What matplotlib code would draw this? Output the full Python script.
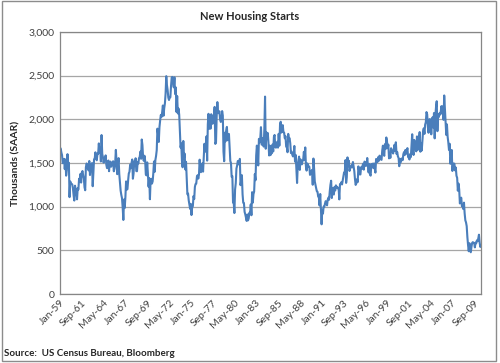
import matplotlib
matplotlib.use("Agg")
import matplotlib.pyplot as plt
from matplotlib.patches import Rectangle

plt.rcParams['font.family'] = ['Lato', 'DejaVu Sans']

# Monthly US housing starts (thousands, SAAR), Jan-1959 .. Jul-2010
starts_by_year = {
    1959: [1657, 1667, 1620, 1590, 1498, 1503, 1547, 1430, 1540, 1355, 1416, 1601],
    1960: [1460, 1503, 1109, 1289, 1266, 1260, 1255, 1207, 1130, 1070, 1240, 1201],
    1961: [1157, 1084, 1213, 1196, 1320, 1290, 1375, 1276, 1390, 1408, 1360, 1324],
    1962: [1222, 1188, 1451, 1494, 1482, 1438, 1415, 1523, 1362, 1466, 1482, 1499],
    1963: [1234, 1379, 1542, 1554, 1622, 1554, 1531, 1606, 1605, 1724, 1622, 1672],
    1964: [1517, 1820, 1604, 1567, 1504, 1541, 1548, 1587, 1480, 1441, 1461, 1528],
    1965: [1406, 1504, 1516, 1457, 1483, 1508, 1520, 1405, 1439, 1500, 1650, 1500],
    1966: [1372, 1490, 1556, 1373, 1285, 1184, 1135, 1098, 992, 848, 1082, 985],
    1967: [1109, 1289, 1195, 1200, 1300, 1380, 1400, 1480, 1440, 1500, 1540, 1320],
    1968: [1380, 1520, 1466, 1554, 1408, 1405, 1512, 1495, 1556, 1569, 1630, 1548],
    1969: [1769, 1705, 1561, 1524, 1583, 1528, 1368, 1358, 1507, 1381, 1229, 1327],
    1970: [1085, 1305, 1319, 1264, 1290, 1385, 1517, 1399, 1534, 1580, 1647, 1893],
    1971: [1828, 1741, 1910, 1986, 2049, 2026, 2083, 2158, 2041, 2128, 2182, 2295],
    1972: [2494, 2390, 2334, 2249, 2221, 2254, 2252, 2382, 2481, 2485, 2421, 2366],
    1973: [2481, 2289, 2365, 2084, 2266, 2067, 2123, 2051, 1874, 1677, 1724, 1526],
    1974: [1451, 1752, 1555, 1607, 1426, 1513, 1316, 1142, 1150, 1070, 1026, 975],
    1975: [1032, 904, 993, 1005, 1121, 1087, 1226, 1260, 1264, 1344, 1360, 1321],
    1976: [1367, 1538, 1421, 1395, 1459, 1495, 1401, 1550, 1720, 1629, 1641, 1804],
    1977: [1527, 1943, 2063, 1892, 1971, 1893, 2058, 2020, 1949, 2042, 2042, 2142],
    1978: [1718, 1738, 2032, 2197, 2075, 2070, 2092, 1996, 1970, 1981, 2094, 2044],
    1979: [1630, 1520, 1847, 1748, 1876, 1913, 1760, 1778, 1832, 1681, 1524, 1498],
    1980: [1341, 1350, 1047, 1051, 927, 1196, 1269, 1436, 1471, 1523, 1510, 1482],
    1981: [1547, 1246, 1306, 1360, 1140, 1045, 1041, 940, 911, 873, 837, 910],
    1982: [843, 866, 931, 917, 1025, 902, 1166, 1046, 1144, 1173, 1372, 1303],
    1983: [1586, 1699, 1606, 1472, 1776, 1733, 1785, 1910, 1710, 1715, 1785, 1688],
    1984: [1897, 2260, 1663, 1851, 1774, 1843, 1732, 1586, 1698, 1590, 1689, 1612],
    1985: [1711, 1632, 1800, 1821, 1680, 1676, 1684, 1743, 1676, 1834, 1698, 1942],
    1986: [1972, 1848, 1876, 1933, 1854, 1847, 1782, 1807, 1687, 1681, 1623, 1833],
    1987: [1774, 1784, 1726, 1614, 1628, 1594, 1575, 1605, 1695, 1515, 1592, 1419],
    1988: [1271, 1473, 1532, 1573, 1421, 1541, 1509, 1484, 1522, 1540, 1628, 1537],
    1989: [1678, 1463, 1413, 1495, 1480, 1456, 1457, 1364, 1402, 1374, 1421, 1251],
    1990: [1551, 1437, 1289, 1248, 1212, 1177, 1171, 1115, 1110, 1014, 1145, 969],
    1991: [798, 965, 921, 1001, 996, 1036, 1063, 1049, 1015, 1079, 1103, 1079],
    1992: [1176, 1250, 1297, 1099, 1214, 1145, 1139, 1226, 1186, 1244, 1214, 1227],
    1993: [1210, 1210, 1083, 1258, 1260, 1280, 1254, 1300, 1343, 1392, 1376, 1533],
    1994: [1272, 1337, 1564, 1465, 1526, 1409, 1439, 1450, 1474, 1450, 1511, 1455],
    1995: [1407, 1316, 1249, 1267, 1314, 1281, 1461, 1416, 1369, 1369, 1452, 1431],
    1996: [1467, 1491, 1424, 1516, 1504, 1467, 1472, 1557, 1475, 1392, 1489, 1370],
    1997: [1355, 1486, 1457, 1492, 1442, 1494, 1437, 1390, 1546, 1520, 1510, 1566],
    1998: [1525, 1584, 1567, 1540, 1536, 1641, 1698, 1614, 1582, 1715, 1660, 1792],
    1999: [1748, 1670, 1710, 1553, 1611, 1559, 1669, 1648, 1635, 1608, 1648, 1708],
    2000: [1636, 1737, 1604, 1626, 1575, 1559, 1463, 1541, 1507, 1549, 1551, 1532],
    2001: [1600, 1625, 1590, 1649, 1605, 1636, 1670, 1567, 1562, 1540, 1602, 1568],
    2002: [1698, 1829, 1642, 1592, 1764, 1717, 1655, 1633, 1804, 1648, 1753, 1788],
    2003: [1854, 1629, 1726, 1643, 1751, 1867, 1897, 1833, 1939, 1967, 2083, 2057],
    2004: [1911, 1846, 1998, 2003, 1981, 1828, 2002, 2024, 1905, 2072, 1782, 2042],
    2005: [2144, 2207, 1864, 2061, 2025, 2068, 2054, 2095, 2151, 2065, 2147, 1994],
    2006: [2273, 2119, 1969, 1821, 1942, 1802, 1737, 1650, 1720, 1491, 1570, 1649],
    2007: [1409, 1480, 1495, 1490, 1415, 1448, 1354, 1330, 1183, 1264, 1197, 1037],
    2008: [1084, 1103, 1005, 1013, 973, 1046, 923, 844, 820, 777, 652, 560],
    2009: [490, 582, 505, 478, 540, 585, 594, 586, 585, 534, 588, 581],
    2010: [614, 605, 636, 679, 588, 539, 550],
}

month_names = ["Jan", "Feb", "Mar", "Apr", "May", "Jun",
               "Jul", "Aug", "Sep", "Oct", "Nov", "Dec"]

values = []
labels = []
for yr, vals in starts_by_year.items():
    for m, v in enumerate(vals):
        values.append(v)
        labels.append(f"{month_names[m]}-{yr % 100:02d}")

n = len(values)
x = list(range(n))
tick_idx = list(range(0, n, 32))
tick_labels = [labels[i] for i in tick_idx]
y_ticks = [0, 500, 1000, 1500, 2000, 2500, 3000]

fig = plt.figure(figsize=(5.0, 3.63), dpi=100)
ax = fig.add_axes([0.12, 0.19, 0.842, 0.722])

ax.plot(x, values, color='#4A7EBB', linewidth=1.5, solid_joinstyle='round')

ax.set_xlim(0, n - 1)
ax.set_ylim(0, 3000)
ax.set_yticks(y_ticks)
ax.set_yticklabels([f"{v:,}" for v in y_ticks])
ax.set_xticks(tick_idx)
ax.set_xticklabels(tick_labels, rotation=45, ha='right', rotation_mode='anchor')

ax.grid(axis='y', color='#A6A6A6', linewidth=0.9)
ax.set_axisbelow(True)
for s in ax.spines.values():
    s.set_color('#868686')
    s.set_linewidth(0.9)
ax.tick_params(axis='both', length=0, labelsize=7.5, colors='#404040', pad=4)
ax.tick_params(axis='x', pad=3)

ax.set_ylabel("Thousands (SAAR)", fontsize=7.5, fontweight='bold', color='#262626', labelpad=6)
fig.text(0.5, 0.955, "New Housing Starts", ha='center', va='center',
         fontsize=8, fontweight='bold', color='#262626')
fig.text(0.008, 0.027, "Source:  US Census Bureau, Bloomberg", ha='left', va='center',
         fontsize=7, fontweight='bold', color='#262626')

fig.patches.append(Rectangle((0.003, 0.006), 0.988, 0.99, transform=fig.transFigure,
                             fill=False, edgecolor='#8C8C8C', linewidth=1.0))

fig.savefig("out.png", dpi=100)
